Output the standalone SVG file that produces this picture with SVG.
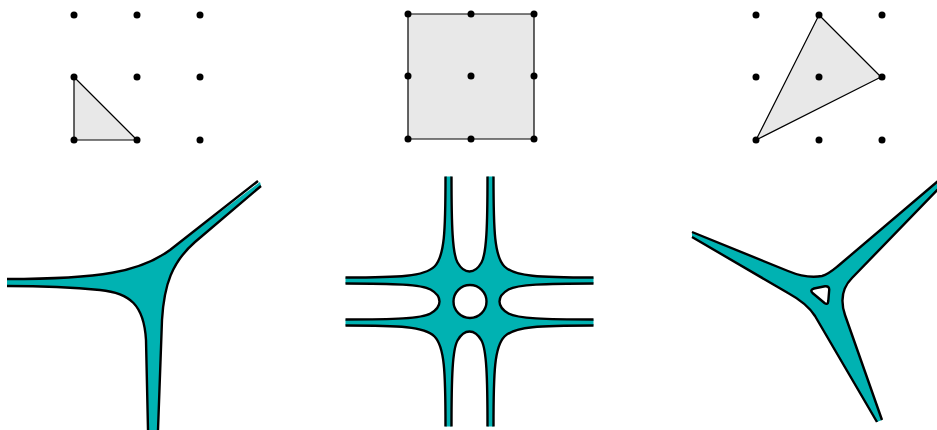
<svg xmlns="http://www.w3.org/2000/svg" width="937" height="430" viewBox="0 0 937 430">
<style>
.dot{fill:#000}
.poly{fill:#e8e8e8;stroke:#000;stroke-width:1.2;stroke-linejoin:round}
.fill{fill:#00b2b2;stroke:none;fill-rule:evenodd}
.edge{fill:none;stroke:#000;stroke-width:2.4;stroke-linejoin:round;stroke-linecap:butt}
</style>
<defs>
<g id="grid">
<circle class="dot" cx="0" cy="0" r="3.5"/><circle class="dot" cx="63" cy="0" r="3.5"/><circle class="dot" cx="126" cy="0" r="3.5"/>
<circle class="dot" cx="0" cy="62" r="3.5"/><circle class="dot" cx="63" cy="62" r="3.5"/><circle class="dot" cx="126" cy="62" r="3.5"/>
<circle class="dot" cx="0" cy="125" r="3.5"/><circle class="dot" cx="63" cy="125" r="3.5"/><circle class="dot" cx="126" cy="125" r="3.5"/>
</g>
</defs>
<g id="polygon-left">
<polygon class="poly" points="74,77 74,140 137,140"/>
<use href="#grid" x="74" y="15"/>
</g>
<g id="polygon-middle">
<polygon class="poly" points="408,14 534,14 534,139 408,139"/>
<use href="#grid" x="408" y="14"/>
</g>
<g id="polygon-right">
<polygon class="poly" points="819,15 881,77 756,140"/>
<use href="#grid" x="756" y="15"/>
</g>
<g id="curve-left">
<path class="fill" d="M7,279 C100,279 140,272 170,250 L260,182 L261,186 L195,242 C172,262 164,285 162,320 L158,430 L148,430 L146,340 C144,305 130,293 100,290 C70,287 40,286 7,286 Z"/>
<path class="edge" d="M7,279 C100,279 140,272 170,250 L258,181 M261,186 L195,242 C172,262 164,285 162,320 L158,430 M148,430 L146,340 C144,305 130,293 100,290 C70,287 40,286 7,286"/>
</g>
<g id="curve-middle" transform="translate(469.5,301.5)">
<path class="fill" d="M-24,-125 L-18,-125 C-18,-75 -17,-48 -12,-39 C-8,-32 -4,-30 0,-30 C4,-30 8,-32 12,-39 C17,-48 18,-75 18,-125 L24,-125 C24,-70 25,-45 35,-35 C45,-25 70,-24 124,-24 L124,-18 C75,-18 48,-17 39,-12 C32,-8 30,-4 30,0 C30,4 32,8 39,12 C48,17 75,18 124,18 L124,24 C70,24 45,25 35,35 C25,45 24,70 24,125 L18,125 C18,75 17,48 12,39 C8,32 4,30 0,30 C-4,30 -8,32 -12,39 C-17,48 -18,75 -18,125 L-24,125 C-24,70 -25,45 -35,35 C-45,25 -70,24 -124,24 L-124,18 C-75,18 -48,17 -39,12 C-32,8 -30,4 -30,0 C-30,-4 -32,-8 -39,-12 C-48,-17 -75,-18 -124,-18 L-124,-24 C-70,-24 -45,-25 -35,-35 C-25,-45 -24,-70 -24,-125 Z M0.5,-16.5 A16.5,16.5 0 1 0 0.5,16.5 A16.5,16.5 0 1 0 0.5,-16.5 Z"/>
<path class="edge" d="M-18,-125 C-18,-75 -17,-48 -12,-39 C-8,-32 -4,-30 0,-30 C4,-30 8,-32 12,-39 C17,-48 18,-75 18,-125 M24,-125 C24,-70 25,-45 35,-35 C45,-25 70,-24 124,-24 M124,-18 C75,-18 48,-17 39,-12 C32,-8 30,-4 30,0 C30,4 32,8 39,12 C48,17 75,18 124,18 M124,24 C70,24 45,25 35,35 C25,45 24,70 24,125 M18,125 C18,75 17,48 12,39 C8,32 4,30 0,30 C-4,30 -8,32 -12,39 C-17,48 -18,75 -18,125 M-24,125 C-24,70 -25,45 -35,35 C-45,25 -70,24 -124,24 M-124,18 C-75,18 -48,17 -39,12 C-32,8 -30,4 -30,0 C-30,-4 -32,-8 -39,-12 C-48,-17 -75,-18 -124,-18 M-124,-24 C-70,-24 -45,-25 -35,-35 C-25,-45 -24,-70 -24,-125"/>
<circle class="edge" cx="0.5" cy="0" r="16.5"/>
</g>
<g id="curve-right">
<path class="fill" d="M692,232 L788,271 C800,276 812,278 822,276 C828,274.5 832,271 838,266 L945,175 L945,182 L852,278 C842,288 840,300 845,315 L882,420 L877,422 L815,316 C808,305 799,299 788,293 L692,237 Z M814,288.5 L825,286.3 Q829.5,285.8 829.2,290 L828.3,301 Q827.8,305.5 824.5,303 L812.5,293 Q809.5,290 814,288.5 Z"/>
<path class="edge" d="M692,232 L788,271 C800,276 812,278 822,276 C828,274.5 832,271 838,266 L945,175 M945,182 L852,278 C842,288 840,300 845,315 L882,420 M877,422 L815,316 C808,305 799,299 788,293 L692,237 M814,288.5 L825,286.3 Q829.5,285.8 829.2,290 L828.3,301 Q827.8,305.5 824.5,303 L812.5,293 Q809.5,290 814,288.5 Z"/>
</g>
</svg>
